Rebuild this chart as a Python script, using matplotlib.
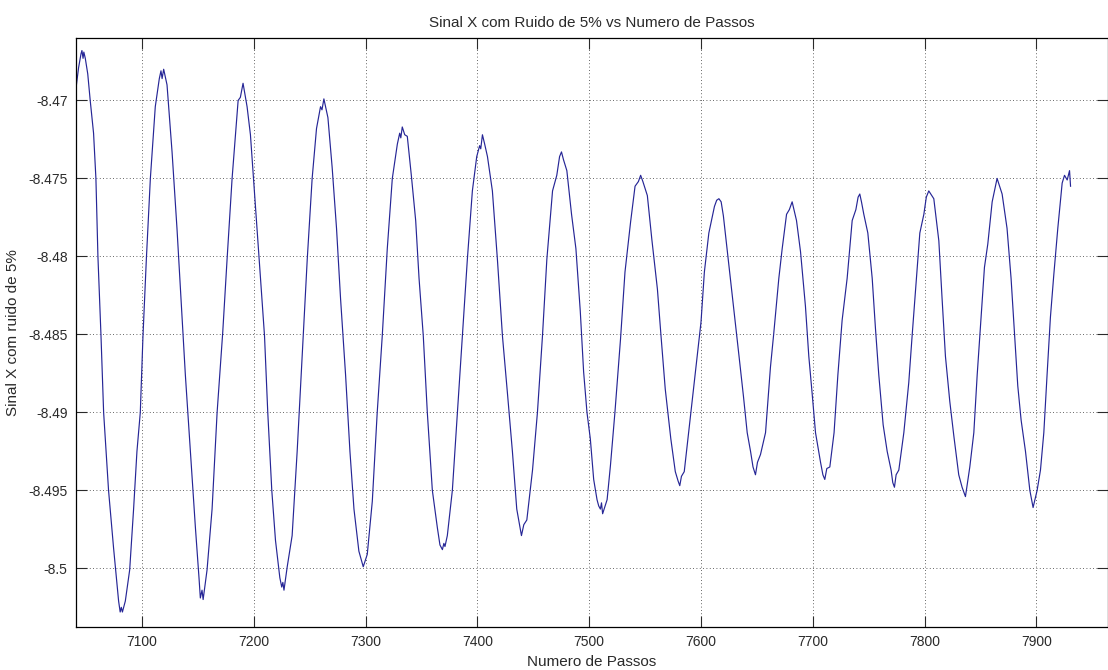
import matplotlib.pyplot as plt

# passos (eixo x) e sinal X com ruido
passos = [
    7041.2, 7043.3, 7045.5, 7046.3, 7047.3, 7048.0, 7049.3, 7051.5, 7053.7, 7056.7,
    7058.8, 7060.6, 7063.3, 7065.7, 7070.1, 7074.6, 7079.1, 7080.5, 7081.5, 7082.5,
    7085.1, 7089.0, 7092.5, 7095.5, 7098.5, 7100.9, 7103.9, 7107.5, 7111.9, 7115.5,
    7117.0, 7118.0, 7119.4, 7122.4, 7126.9, 7131.3, 7134.9, 7138.8, 7143.3, 7147.8,
    7151.0, 7152.2, 7153.7, 7154.7, 7158.2, 7162.7, 7167.2, 7172.2, 7176.1, 7180.6,
    7186.0, 7188.0, 7190.4, 7194.0, 7197.0, 7200.0, 7203.0, 7206.0, 7209.6, 7212.5,
    7216.1, 7219.4, 7223.3, 7225.0, 7226.0, 7227.0, 7229.9, 7234.3, 7238.8, 7243.3,
    7247.8, 7252.2, 7256.1, 7259.7, 7261.0, 7262.7, 7266.3, 7270.1, 7274.0, 7277.6,
    7282.1, 7286.0, 7289.6, 7294.0, 7297.9, 7301.5, 7306.0, 7310.4, 7314.9, 7319.4,
    7323.9, 7328.4, 7330.5, 7331.5, 7332.8, 7335.0, 7337.3, 7340.9, 7344.8, 7347.8,
    7351.6, 7355.2, 7359.7, 7364.2, 7366.5, 7368.7, 7370.0, 7371.0, 7373.1, 7377.6,
    7382.1, 7386.6, 7391.0, 7395.5, 7399.4, 7402.0, 7403.0, 7404.5, 7406.5, 7409.0,
    7413.4, 7417.9, 7422.4, 7426.9, 7431.3, 7435.2, 7439.4, 7441.5, 7444.2, 7449.3,
    7453.7, 7458.2, 7462.1, 7467.2, 7471.0, 7473.5, 7475.2, 7477.0, 7480.0, 7484.2,
    7488.1, 7492.0, 7495.0, 7498.0, 7501.0, 7504.0, 7507.0, 7508.5, 7510.0, 7511.0,
    7512.0, 7516.0, 7519.0, 7523.0, 7528.0, 7532.0, 7537.0, 7541.0, 7544.0, 7546.0,
    7548.0, 7552.0, 7556.0, 7561.0, 7564.0, 7568.0, 7573.0, 7577.0, 7579.5, 7581.0,
    7582.5, 7585.0, 7590.0, 7595.0, 7600.0, 7603.0, 7607.0, 7612.0, 7614.0, 7616.0,
    7618.0, 7620.0, 7625.0, 7629.0, 7634.0, 7638.0, 7641.3, 7644.3, 7646.5, 7648.7,
    7650.5, 7653.2, 7657.7, 7662.1, 7665.1, 7669.6, 7672.6, 7676.5, 7679.0, 7681.5,
    7685.4, 7689.0, 7693.4, 7696.4, 7699.4, 7702.4, 7706.9, 7709.0, 7710.7, 7712.5,
    7715.2, 7719.0, 7722.4, 7726.2, 7730.7, 7735.2, 7738.5, 7740.5, 7742.0, 7743.5,
    7745.6, 7749.2, 7753.1, 7756.0, 7759.0, 7762.9, 7766.5, 7770.0, 7771.5, 7773.0,
    7774.5, 7776.9, 7781.4, 7785.8, 7788.8, 7791.8, 7795.7, 7799.3, 7801.5, 7803.7,
    7808.2, 7812.7, 7815.6, 7818.6, 7822.5, 7826.1, 7830.5, 7833.5, 7836.5, 7840.4,
    7844.0, 7847.0, 7850.5, 7853.5, 7856.5, 7860.4, 7864.8, 7869.3, 7873.7, 7877.3,
    7880.3, 7883.3, 7886.3, 7890.2, 7894.1, 7897.0, 7900.6, 7903.6, 7906.6, 7909.5,
    7912.5, 7915.5, 7919.1, 7923.0, 7925.1, 7927.5, 7929.6, 7930.5,
]

sinal_x = [
    -8.4691, -8.4679, -8.4670, -8.4668, -8.4673, -8.4669, -8.4673, -8.4683, -8.4700, -8.4721,
    -8.4750, -8.4800, -8.4850, -8.4900, -8.4950, -8.4987, -8.5021, -8.5028, -8.5025, -8.5028,
    -8.5021, -8.5001, -8.4962, -8.4925, -8.4900, -8.4851, -8.4802, -8.4750, -8.4704, -8.4686,
    -8.4681, -8.4686, -8.4680, -8.4690, -8.4733, -8.4782, -8.4827, -8.4876, -8.4925, -8.4974,
    -8.5006, -8.5019, -8.5014, -8.5020, -8.5001, -8.4962, -8.4900, -8.4849, -8.4802, -8.4750,
    -8.4700, -8.4698, -8.4689, -8.4704, -8.4722, -8.4753, -8.4785, -8.4814, -8.4851, -8.4900,
    -8.4950, -8.4982, -8.5006, -8.5012, -8.5009, -8.5014, -8.4999, -8.4979, -8.4925, -8.4864,
    -8.4802, -8.4750, -8.4718, -8.4704, -8.4706, -8.4699, -8.4711, -8.4743, -8.4782, -8.4827,
    -8.4876, -8.4925, -8.4962, -8.4989, -8.4999, -8.4991, -8.4957, -8.4900, -8.4851, -8.4795,
    -8.4750, -8.4728, -8.4721, -8.4724, -8.4717, -8.4722, -8.4723, -8.4748, -8.4777, -8.4814,
    -8.4851, -8.4900, -8.4950, -8.4974, -8.4985, -8.4988, -8.4984, -8.4986, -8.4979, -8.4950,
    -8.4900, -8.4849, -8.4802, -8.4758, -8.4736, -8.4729, -8.4731, -8.4722, -8.4728, -8.4736,
    -8.4758, -8.4802, -8.4851, -8.4888, -8.4925, -8.4962, -8.4979, -8.4972, -8.4969, -8.4937,
    -8.4900, -8.4851, -8.4802, -8.4758, -8.4748, -8.4736, -8.4733, -8.4738, -8.4745, -8.4773,
    -8.4795, -8.4835, -8.4874, -8.4900, -8.4917, -8.4943, -8.4956, -8.4960, -8.4962, -8.4958,
    -8.4965, -8.4956, -8.4934, -8.4900, -8.4853, -8.4810, -8.4778, -8.4755, -8.4752, -8.4748,
    -8.4752, -8.4761, -8.4789, -8.4821, -8.4849, -8.4885, -8.4917, -8.4938, -8.4944, -8.4947,
    -8.4941, -8.4938, -8.4906, -8.4874, -8.4842, -8.4810, -8.4785, -8.4768, -8.4764, -8.4763,
    -8.4765, -8.4774, -8.4806, -8.4832, -8.4864, -8.4890, -8.4913, -8.4925, -8.4935, -8.4940,
    -8.4932, -8.4927, -8.4913, -8.4871, -8.4849, -8.4814, -8.4795, -8.4773, -8.4770, -8.4765,
    -8.4777, -8.4797, -8.4832, -8.4864, -8.4888, -8.4913, -8.4932, -8.4940, -8.4943, -8.4936,
    -8.4935, -8.4913, -8.4876, -8.4841, -8.4814, -8.4777, -8.4770, -8.4762, -8.4760, -8.4765,
    -8.4773, -8.4785, -8.4814, -8.4846, -8.4876, -8.4908, -8.4925, -8.4937, -8.4945, -8.4948,
    -8.4940, -8.4937, -8.4913, -8.4881, -8.4851, -8.4822, -8.4785, -8.4773, -8.4762, -8.4758,
    -8.4763, -8.4790, -8.4827, -8.4864, -8.4893, -8.4915, -8.4940, -8.4948, -8.4954, -8.4935,
    -8.4913, -8.4876, -8.4839, -8.4807, -8.4792, -8.4765, -8.4750, -8.4760, -8.4782, -8.4814,
    -8.4849, -8.4883, -8.4905, -8.4925, -8.4950, -8.4961, -8.4950, -8.4937, -8.4913, -8.4876,
    -8.4839, -8.4812, -8.4782, -8.4753, -8.4748, -8.4751, -8.4745, -8.4755,
]

xticks = [7100, 7200, 7300, 7400, 7500, 7600, 7700, 7800, 7900]
yticks = [-8.47, -8.475, -8.48, -8.485, -8.49, -8.495, -8.5]
ytick_labels = ['-8.47', '-8.475', '-8.48', '-8.485', '-8.49', '-8.495', '-8.5']

plt.rcParams['font.family'] = ['Liberation Sans', 'DejaVu Sans']

fig = plt.figure(figsize=(11.08, 6.70), dpi=100)
ax = fig.add_axes([0.0686, 0.0642, 0.9314, 0.879])

ax.plot(passos, sinal_x, color='#262696', linewidth=0.85)

ax.set_xlim(7041, 7964)
ax.set_ylim(-8.50376, -8.4660)
ax.set_xticks(xticks)
ax.set_yticks(yticks)
ax.set_yticklabels(ytick_labels)

ax.grid(True, color='#333333', linestyle=(0, (1, 3)), linewidth=0.6)
ax.tick_params(direction='in', length=8, width=0.8, top=True, right=True,
               labelsize=10, colors='#2a2a2a', pad=6)
for s in ax.spines.values():
    s.set_linewidth(0.9)

ax.set_title('Sinal X com Ruido de 5% vs Numero de Passos', fontsize=11,
             pad=8, color='#2a2a2a')
ax.set_xlabel('Numero de Passos', fontsize=11, labelpad=4, color='#2a2a2a')
ax.set_ylabel('Sinal X com ruido de 5%', fontsize=11, labelpad=6, color='#2a2a2a')

fig.savefig('out.png', dpi=100)
